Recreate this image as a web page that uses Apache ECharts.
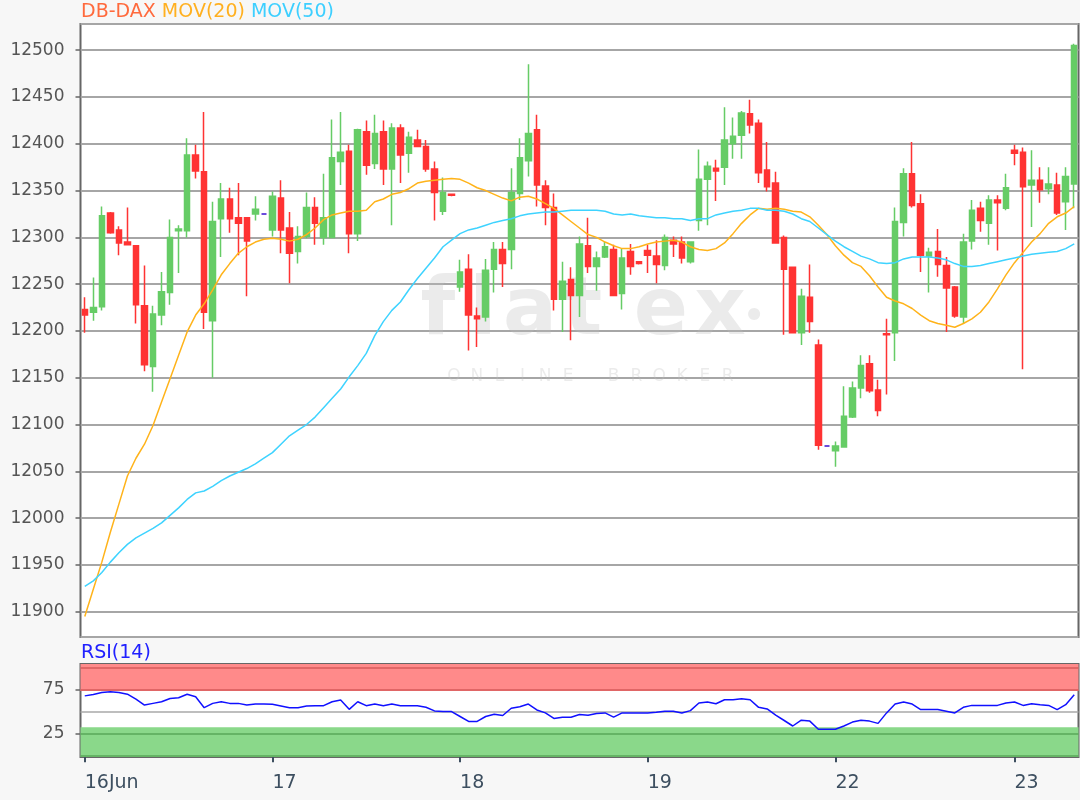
<!DOCTYPE html>
<html>
<head>
<meta charset="utf-8">
<script src="https://cdn.jsdelivr.net/npm/echarts@6/dist/echarts.min.js"></script>
<style>
html,body{margin:0;padding:0;background:#f7f7f7;}
#chart{width:1080px;height:800px;}
</style>
</head>
<body>
<div id="chart"></div>
<script>
// ---------- DATA ----------
const dayLabels = ['16Jun', '17', '18', '19', '22', '23'];
const candlesPerDay = [22, 22, 22, 22, 21, 8];

const opens = [
  12223,12220,12226,12326,12308,12295,12291,12227,12162,12217,12241,12307,12307,12388,12370,12211,12320,12341,12321,12321,12325,12325,
  12308,12342,12310,12285,12301,12332,12300,12300,12381,12392,12304,12413,12379,12413,12373,12417,12390,12404,12397,12373,12328,12346,
  12247,12266,12216,12215,12266,12287,12287,12347,12382,12415,12355,12332,12234,12255,12238,12291,12269,12279,12287,12240,12285,12274,
  12286,12280,12270,12297,12295,12274,12318,12362,12374,12375,12400,12409,12432,12422,12372,12358,12300,12268,12198,12236,12185,12077,
  12072,12076,12108,12139,12165,12137,12197,12198,12316,12368,12336,12280,12285,12270,12247,12215,12296,12331,12315,12340,12331,
  12393,12391,12356,12361,12352,12356,12338,12357
];
const closes = [
  12217,12225,12323,12305,12294,12292,12228,12164,12218,12242,12300,12309,12388,12371,12220,12317,12341,12320,12315,12296,12330,12325,
  12344,12308,12283,12301,12332,12315,12321,12385,12391,12304,12415,12377,12411,12373,12417,12388,12407,12397,12373,12348,12348,12345,
  12263,12217,12213,12265,12287,12272,12348,12385,12411,12356,12332,12234,12253,12238,12293,12269,12278,12290,12238,12278,12269,12272,
  12281,12271,12300,12293,12278,12295,12362,12376,12371,12404,12408,12433,12420,12369,12354,12294,12266,12198,12237,12210,12078,12077,
  12077,12109,12139,12163,12136,12115,12196,12317,12368,12334,12281,12284,12271,12246,12216,12295,12329,12318,12340,12337,12353,
  12390,12354,12361,12351,12357,12326,12365,12505
];
const lows = [
  12198,12211,12222,12304,12281,12292,12208,12157,12135,12206,12228,12262,12300,12363,12202,12150,12279,12305,12281,12237,12318,12325,
  12301,12283,12251,12272,12299,12292,12292,12300,12356,12283,12296,12367,12373,12356,12313,12358,12369,12397,12370,12318,12324,12344,
  12242,12179,12183,12210,12241,12247,12266,12340,12365,12333,12313,12222,12199,12190,12215,12262,12243,12278,12237,12223,12260,12271,
  12262,12251,12265,12279,12272,12272,12307,12313,12339,12356,12384,12384,12411,12358,12349,12294,12196,12198,12185,12198,12073,12077,
  12055,12076,12107,12128,12134,12109,12132,12168,12301,12332,12263,12241,12258,12199,12214,12208,12287,12306,12292,12286,12329,
  12377,12159,12311,12337,12346,12324,12308,12331
];
const highs = [
  12236,12257,12333,12327,12312,12332,12291,12270,12227,12263,12319,12313,12406,12399,12434,12338,12358,12353,12358,12321,12344,12325,
  12349,12361,12327,12312,12348,12343,12368,12426,12434,12399,12416,12425,12431,12425,12422,12421,12413,12415,12404,12381,12364,12347,
  12276,12282,12225,12277,12295,12295,12374,12406,12485,12431,12361,12347,12274,12268,12301,12321,12285,12295,12292,12288,12293,12274,
  12292,12297,12303,12301,12301,12295,12394,12381,12383,12439,12428,12435,12447,12426,12402,12370,12302,12268,12245,12271,12191,12077,
  12082,12141,12146,12174,12174,12148,12213,12332,12374,12402,12346,12289,12309,12279,12248,12304,12340,12338,12345,12345,12368,
  12399,12396,12393,12375,12375,12369,12375,12507
];
const ma20 = [
  11895,11924,11953,11985,12015,12045,12064,12079,12099,12124,12149,12174,12199,12217,12229,12244,12260,12272,12283,12290,12295,12298,
  12299,12298,12296,12298,12303,12310,12319,12324,12326,12328,12328,12329,12338,12341,12346,12348,12352,12358,12360,12361,12362,12363,
  12362,12358,12353,12350,12346,12342,12339,12343,12344,12341,12336,12331,12324,12317,12310,12303,12300,12295,12291,12288,12288,12290,
  12293,12295,12296,12297,12295,12290,12287,12286,12288,12294,12304,12315,12324,12331,12330,12331,12330,12328,12327,12322,12313,12303,
  12291,12281,12273,12269,12259,12247,12236,12232,12229,12224,12217,12211,12208,12206,12204,12208,12213,12220,12231,12245,12260,
  12273,12284,12295,12304,12315,12322,12326,12333
];
const ma50 = [
  11927,11933,11942,11953,11963,11972,11979,11984,11989,11995,12003,12011,12020,12027,12029,12034,12040,12045,12049,12053,12058,12064,
  12070,12079,12088,12094,12100,12108,12118,12128,12138,12151,12163,12176,12195,12210,12222,12231,12244,12256,12267,12278,12290,12297,
  12304,12308,12310,12313,12316,12318,12320,12323,12325,12326,12327,12327,12328,12329,12329,12329,12329,12328,12325,12324,12325,12323,
  12322,12321,12321,12320,12320,12318,12320,12320,12324,12326,12328,12329,12331,12331,12329,12329,12328,12325,12320,12317,12310,12303,
  12296,12290,12285,12280,12277,12273,12272,12273,12277,12279,12279,12279,12278,12276,12272,12269,12269,12270,12272,12274,12276,
  12278,12280,12282,12283,12284,12285,12288,12293
];
const rsi = [
  68,69.5,71.8,72.6,71.8,69.9,64.3,57.5,59.4,61.3,65,65.8,69.9,66.9,54.5,59.4,61.3,59.4,59.4,57.5,58.6,58.6,
  58.3,56.4,54.5,54.5,56.4,56.8,56.8,61.3,63.2,52.6,61.3,56.8,58.6,56.8,58.6,56.8,56.8,56.8,54.9,50.8,50,50,
  44.4,38.7,38.7,44.4,47,45.5,53.8,55.6,58.6,51.9,48.5,42.1,43.6,43.6,46.6,45.9,47.7,48.5,43.6,48.5,48.5,48.5,
  48.5,49.2,50.4,50.4,48.5,51.1,59.8,60.9,59,63.5,63.5,64.7,63.5,54.9,53,45.9,39.8,33.5,40.2,39.1,29.7,29.7,
  29.7,33.5,38,40.2,39.1,36.5,48.5,58.6,60.9,58.6,52.3,52.3,52.3,50.4,48.5,54.9,57.1,57.1,57.1,57.1,59.8,
  60.9,57.1,59,57.9,57.1,52.3,57.9,69.2
];
const rsiLabelValues = [25, 75];
const rsiLevels = [0, 25, 50, 75, 100];
const overboughtBand = [73.5, 104.5];
const oversoldBand = [-2, 32];

// ---------- BUILD ----------
const FONT = 'DejaVu Sans';
const categories = [];
const dayStartIndex = [];
dayLabels.forEach((d, k) => {
  dayStartIndex.push(categories.length);
  for (let j = 0; j < candlesPerDay[k]; j++) categories.push(d + '|' + (j + 1));
});
const isDayStart = (i) => dayStartIndex.indexOf(i) >= 0;
const ohlc = opens.map((o, i) => [o, closes[i], lows[i], highs[i]]);

const levelColor = (v) => v > 60 ? '#d65a5a' : (v < 40 ? '#58a858' : '#a8a8a8');

// watermark (layout only)
const wmBig = [['f', 438], ['l', 483], ['a', 530], ['t', 583], ['e', 661], ['x', 720], ['•', 754]];
const wmSmall = 'ONLINE BROKER'.split('');
const graphics = [];
wmBig.forEach(([ch, x]) => graphics.push({
  type: 'text', x: x, y: ch === '•' ? 318 : 313, z: 1, silent: true,
  style: { text: ch, fill: 'rgba(190,190,190,0.3)', font: 'bold ' + (ch === '•' ? 34 : 80) + 'px "DejaVu Sans"', textAlign: 'center', textVerticalAlign: 'middle' }
}));
wmSmall.forEach((ch, k) => graphics.push({
  type: 'text', x: 454 + k * 22.8, y: 377, z: 1, silent: true,
  style: { text: ch, fill: 'rgba(190,190,190,0.3)', font: '17px "DejaVu Sans"', textAlign: 'center', textVerticalAlign: 'middle' }
}));

const chart = echarts.init(document.getElementById('chart'));
chart.setOption({
  backgroundColor: '#f7f7f7',
  animation: false,
  title: [
    {
      text: '{a|DB-DAX} {b|MOV(20)} {c|MOV(50)}',
      left: 81, top: 3, padding: 0,
      textStyle: {
        fontFamily: FONT, fontSize: 19, fontWeight: 'normal',
        rich: {
          a: { color: '#ff6a3d', fontSize: 19, fontFamily: FONT },
          b: { color: '#ffb020', fontSize: 19, fontFamily: FONT },
          c: { color: '#3dcfff', fontSize: 19, fontFamily: FONT }
        }
      }
    },
    {
      text: 'RSI(14)', left: 81, top: 644, padding: 0,
      textStyle: { color: '#2020ff', fontSize: 19, fontWeight: 'normal', fontFamily: FONT }
    }
  ],
  graphic: graphics,
  grid: [
    { left: 80.5, top: 24, width: 998, height: 613, show: true, backgroundColor: '#ffffff', borderColor: '#666666', borderWidth: 2 },
    { left: 80.5, top: 664, width: 998, height: 93, show: true, backgroundColor: '#ffffff', borderColor: '#666666', borderWidth: 2 }
  ],
  xAxis: [
    {
      type: 'category', gridIndex: 0, data: categories, boundaryGap: true,
      axisLine: { show: false }, axisTick: { show: false }, axisLabel: { show: false }, splitLine: { show: false }
    },
    {
      type: 'category', gridIndex: 1, data: categories, boundaryGap: true,
      axisLine: { show: false },
      axisTick: { show: true, alignWithLabel: true, interval: (i) => isDayStart(i), length: 7, lineStyle: { color: '#3d4f60', width: 2 } },
      axisLabel: {
        interval: (i) => isDayStart(i), formatter: (v) => v.split('|')[0],
        align: 'left', margin: 17, color: '#3d4f60', fontSize: 19, fontFamily: FONT
      },
      splitLine: { show: false }
    }
  ],
  yAxis: [
    {
      type: 'value', gridIndex: 0, min: 11873, max: 12528, splitNumber: 13, minInterval: 50, maxInterval: 50,
      axisLine: { show: false },
      axisTick: { show: true, length: 5, lineStyle: { color: '#666666', width: 1.5 } },
      axisLabel: { showMinLabel: false, showMaxLabel: false, formatter: (v) => String(v), color: '#555555', fontSize: 17, fontFamily: FONT, margin: 16 },
      splitLine: { show: true, lineStyle: { color: '#a6a6a6', width: 2 } }
    },
    {
      type: 'value', gridIndex: 1, min: -2, max: 104.5,
      axisLine: { show: false },
      axisTick: { show: true, customValues: rsiLabelValues, length: 5, lineStyle: { color: '#666666', width: 1.5 } },
      axisLabel: { customValues: rsiLabelValues, formatter: (v) => String(v), color: '#555555', fontSize: 17, fontFamily: FONT, margin: 16 },
      splitLine: { show: false }
    }
  ],
  series: [
    {
      type: 'candlestick', xAxisIndex: 0, yAxisIndex: 0, data: ohlc, barWidth: 6,
      itemStyle: {
        color: '#66cc66', color0: '#ff3333',
        borderColor: '#66cc66', borderColor0: '#ff3333', borderColorDoji: '#3a10d0',
        borderWidth: 1.5
      }
    },
    {
      type: 'line', name: 'MOV(20)', xAxisIndex: 0, yAxisIndex: 0, data: ma20,
      symbol: 'none', z: 3, lineStyle: { color: '#ffb31a', width: 1.5 }
    },
    {
      type: 'line', name: 'MOV(50)', xAxisIndex: 0, yAxisIndex: 0, data: ma50,
      symbol: 'none', z: 3, lineStyle: { color: '#3ed3ff', width: 1.5 }
    },
    {
      type: 'line', name: 'RSI(14)', xAxisIndex: 1, yAxisIndex: 1, data: rsi,
      symbol: 'none', z: 3, lineStyle: { color: '#1010ff', width: 1.5 },
      markArea: {
        silent: true, z: 1,
        data: [
          [{ yAxis: overboughtBand[0], itemStyle: { color: '#ff8a8a' } }, { yAxis: overboughtBand[1] }],
          [{ yAxis: oversoldBand[0], itemStyle: { color: '#8ad88a' } }, { yAxis: oversoldBand[1] }]
        ]
      },
      markLine: {
        silent: true, z: 2, symbol: 'none', label: { show: false }, animation: false,
        data: rsiLevels.map((v) => ({ yAxis: v, lineStyle: { color: levelColor(v), width: 1.5, type: 'solid' } }))
      }
    }
  ]
});
</script>
</body>
</html>
